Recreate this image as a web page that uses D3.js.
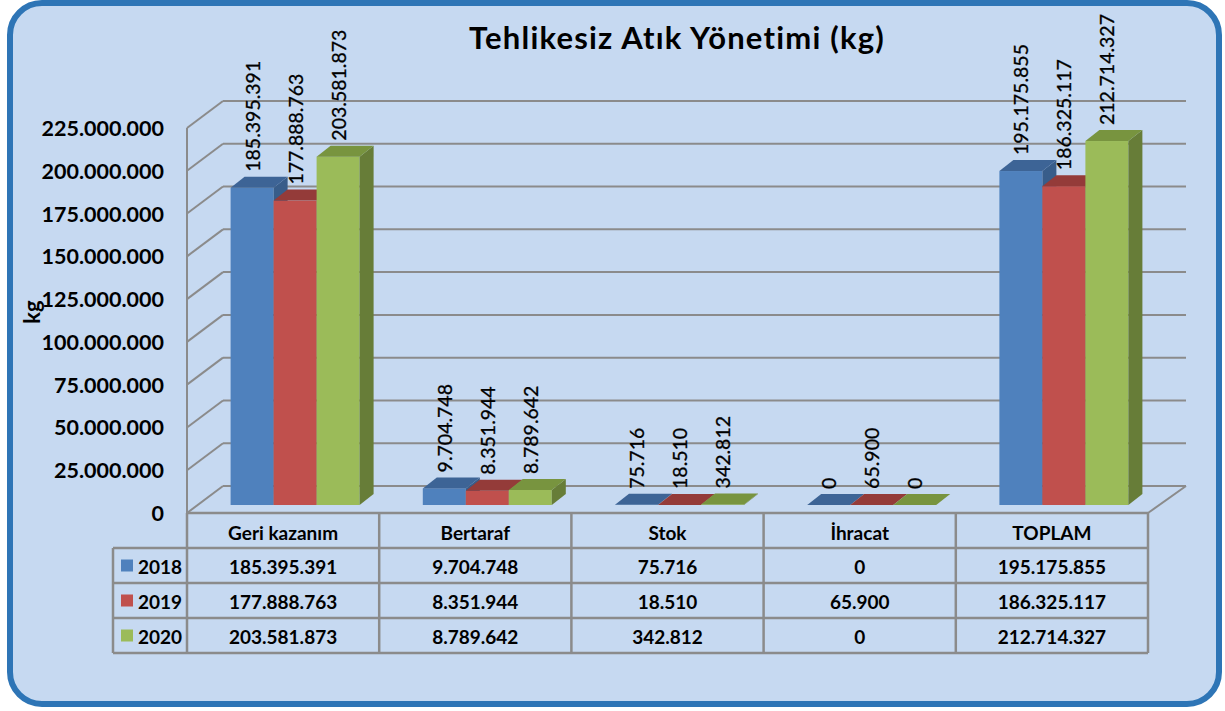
<!DOCTYPE html>
<html>
<head>
<meta charset="utf-8">
<script src="https://cdn.jsdelivr.net/npm/d3@7"></script>
<style>
  body { margin: 0; background: #ffffff; }
  text { font-family: Lato, "Noto Sans", sans-serif; fill: #000; }
</style>
</head>
<body>
<div id="canvas"></div>
<script>
"use strict"

/* Data */
let categories = ["Geri kazanım", "Bertaraf", "Stok", "İhracat", "TOPLAM"];
let years = ["2018", "2019", "2020"];
let values2018 = [185395391, 9704748, 75716, 0, 195175855];
let values2019 = [177888763, 8351944, 18510, 65900, 186325117];
let values2020 = [203581873, 8789642, 342812, 0, 212714327];
let yTicks = [0, 25000000, 50000000, 75000000, 100000000, 125000000, 150000000, 175000000, 200000000, 225000000];

let series = [values2018, values2019, values2020];

/* Drawing config */
let svgWidth = 1225;
let svgHeight = 711;
let frontLeft = 187;
let frontRight = 1148;
let floorFront = 513;   // y of value 0 on front plane
let depthX = 36;        // wall depth offset
let depthY = -27;
let barShiftX = 12;     // bars sit a bit back from the front plane
let barShiftY = -8;
let barW = 43;
let barDX = 14;         // bar depth
let barDY = -11;

let frontColors = ["#4f81bd", "#c0504d", "#9bbb59"];
let topColors = ["#3d6496", "#943b39", "#78943f"];
let sideColors = ["#385d8a", "#8b3735", "#677d38"];
let gridColor = "#8b8b8b";

let tr = d3.formatLocale({ decimal: ",", thousands: ".", grouping: [3], currency: ["", ""] });
let fmt = tr.format(",d");

let svg = d3.select("#canvas")
    .append("svg")
    .attr("width", svgWidth)
    .attr("height", svgHeight);

/* Frame */
svg.append("rect")
    .attr("x", 10).attr("y", 3)
    .attr("width", 1209).attr("height", 701)
    .attr("rx", 32).attr("ry", 32)
    .attr("fill", "#c6d9f1")
    .attr("stroke", "#2e75b6")
    .attr("stroke-width", 6);

/* Scales */
let yScale = d3.scaleLinear()
    .domain([0, 225000000])
    .range([0, 385]);

let xScale = d3.scaleBand()
    .domain(categories)
    .range([frontLeft, frontRight]);

let grid = svg.append("g")
    .attr("fill", "none")
    .attr("stroke", gridColor)
    .attr("stroke-width", 2);

/* back wall horizontals + side wall diagonals */
yTicks.forEach(function (t) {
    let yf = floorFront - yScale(t);
    grid.append("line")
        .attr("x1", frontLeft + depthX).attr("y1", yf + depthY)
        .attr("x2", frontRight + depthX + 2).attr("y2", yf + depthY);
    grid.append("line")
        .attr("x1", frontLeft).attr("y1", yf)
        .attr("x2", frontLeft + depthX).attr("y2", yf + depthY);
});

/* left axis line */
grid.append("line")
    .attr("x1", frontLeft).attr("y1", floorFront - yScale(225000000))
    .attr("x2", frontLeft).attr("y2", floorFront);

/* floor right edge */
grid.append("line")
    .attr("x1", frontRight).attr("y1", floorFront)
    .attr("x2", frontRight + depthX + 2).attr("y2", floorFront + depthY);

/* Y tick labels */
svg.append("g")
    .selectAll("text")
    .data(yTicks)
    .join("text")
    .attr("x", 164)
    .attr("y", function (d) { return floorFront - yScale(d); })
    .attr("text-anchor", "end")
    .attr("dominant-baseline", "central")
    .attr("font-size", 21.5)
    .attr("font-weight", "bold")
    .text(function (d) { return fmt(d); });

/* Y axis title */
svg.append("text")
    .attr("transform", "translate(31,312) rotate(-90)")
    .attr("text-anchor", "middle")
    .attr("dominant-baseline", "central")
    .attr("font-size", 22)
    .attr("font-weight", "bold")
    .text("kg");

/* Title */
svg.append("text")
    .attr("x", 677)
    .attr("y", 49)
    .attr("text-anchor", "middle")
    .attr("font-size", 31)
    .attr("font-weight", "bold")
    .attr("letter-spacing", 1.2)
    .text("Tehlikesiz Atık Yönetimi (kg)");

/* Bars */
let bars = svg.append("g");
let baseY = floorFront + barShiftY;

categories.forEach(function (cat, c) {
    let cx = xScale(cat) + xScale.bandwidth() / 2;
    series.forEach(function (vals, s) {
        let x0 = cx - barW * 1.5 + s * barW + barShiftX;
        let top = baseY - yScale(vals[c]);
        let g = bars.append("g");
        g.append("rect")
            .attr("x", x0).attr("y", top)
            .attr("width", barW).attr("height", baseY - top)
            .attr("fill", frontColors[s]);
        g.append("polygon")
            .attr("points", [
                [x0 + barW, top], [x0 + barW + barDX, top + barDY],
                [x0 + barW + barDX, baseY + barDY], [x0 + barW, baseY]
            ].join(" "))
            .attr("fill", sideColors[s]);
        g.append("polygon")
            .attr("points", [
                [x0, top], [x0 + barDX, top + barDY],
                [x0 + barW + barDX, top + barDY], [x0 + barW, top]
            ].join(" "))
            .attr("fill", topColors[s]);
    });
});

/* Data labels */
let labels = svg.append("g");
categories.forEach(function (cat, c) {
    let cx = xScale(cat) + xScale.bandwidth() / 2;
    series.forEach(function (vals, s) {
        let lx = cx - barW * 1.5 + s * barW + barShiftX + barW / 2;
        let ly = baseY - yScale(vals[c]) - 16;
        labels.append("text")
            .attr("transform", "translate(" + lx + "," + ly + ") rotate(-90)")
            .attr("text-anchor", "start")
            .attr("dominant-baseline", "central")
            .attr("font-size", 19.5)
            .attr("stroke", "#000")
            .attr("stroke-width", 0.3)
            .text(fmt(vals[c]));
    });
});

/* Data table */
let rowH = 35;
let tableTop = floorFront;
let labelLeft = 113;
let table = svg.append("g");

let tLines = table.append("g")
    .attr("stroke", gridColor)
    .attr("stroke-width", 2.5);

// horizontal lines
tLines.append("line")
    .attr("x1", frontLeft).attr("y1", tableTop)
    .attr("x2", frontRight).attr("y2", tableTop);
for (let r = 1; r <= years.length + 1; r++) {
    tLines.append("line")
        .attr("x1", labelLeft).attr("y1", tableTop + r * rowH)
        .attr("x2", frontRight).attr("y2", tableTop + r * rowH);
}
// vertical lines
categories.concat(["end"]).forEach(function (cat, i) {
    let x = frontLeft + i * xScale.bandwidth();
    tLines.append("line")
        .attr("x1", x).attr("y1", tableTop)
        .attr("x2", x).attr("y2", tableTop + (years.length + 1) * rowH);
});
tLines.append("line")
    .attr("x1", labelLeft).attr("y1", tableTop + rowH)
    .attr("x2", labelLeft).attr("y2", tableTop + (years.length + 1) * rowH);

// header
table.selectAll("text.head")
    .data(categories)
    .join("text")
    .attr("class", "head")
    .attr("x", function (d) { return xScale(d) + xScale.bandwidth() / 2; })
    .attr("y", tableTop + rowH / 2 + 2)
    .attr("text-anchor", "middle")
    .attr("dominant-baseline", "central")
    .attr("font-size", 19)
    .attr("font-weight", "bold")
    .text(function (d) { return d; });

// rows
years.forEach(function (yr, s) {
    let yc = tableTop + rowH * (s + 1) + rowH / 2;
    table.append("rect")
        .attr("x", 121).attr("y", yc - 6)
        .attr("width", 12).attr("height", 12)
        .attr("fill", frontColors[s]);
    table.append("text")
        .attr("x", 138).attr("y", yc + 1)
        .attr("dominant-baseline", "central")
        .attr("font-size", 19)
        .attr("font-weight", "bold")
        .text(yr);
    categories.forEach(function (cat, c) {
        table.append("text")
            .attr("x", xScale(cat) + xScale.bandwidth() / 2)
            .attr("y", yc + 1)
            .attr("text-anchor", "middle")
            .attr("dominant-baseline", "central")
            .attr("font-size", 19)
            .attr("font-weight", "bold")
            .text(fmt(series[s][c]));
    });
});
</script>
</body>
</html>
